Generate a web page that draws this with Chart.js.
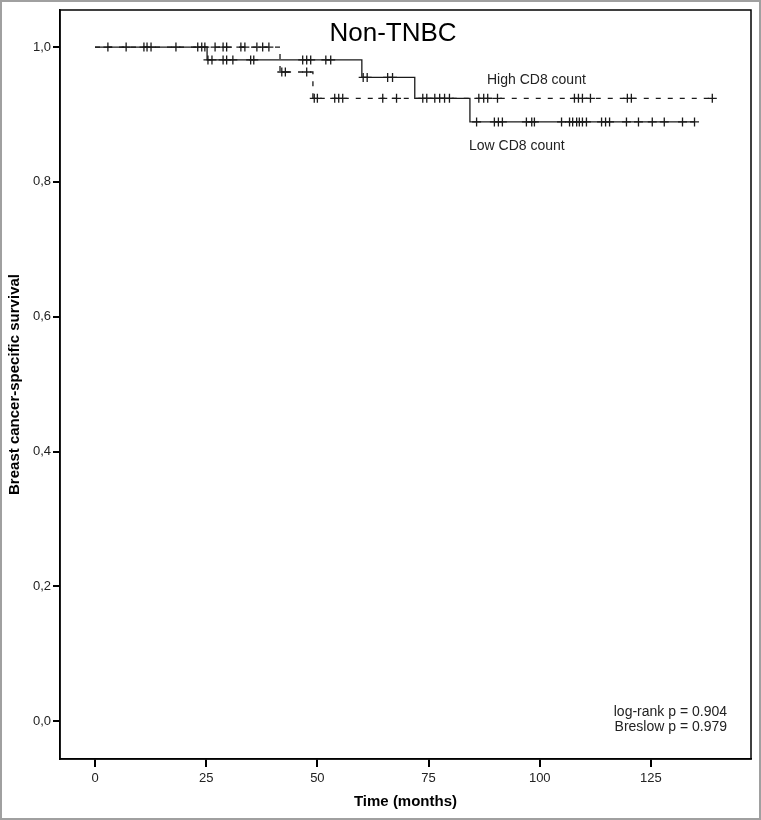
<!DOCTYPE html>
<html>
<head>
<meta charset="utf-8">
<script src="https://cdn.jsdelivr.net/npm/chart.js@4.4.0/dist/chart.umd.min.js"></script>
<style>
  html, body { margin: 0; padding: 0; background: #fff; }
  #wrap { width: 761px; height: 820px; }
</style>
</head>
<body>
<div id="wrap"><canvas id="myChart" width="761" height="820"></canvas></div>
<script>
// Kaplan-Meier step points (time in months, survival)
var lowTimes = [0, 25.2, 60.0, 71.9, 84.3, 134.8];
var lowSurv = [1.0, 0.981, 0.955, 0.924, 0.889, 0.889];
var highTimes = [0, 41.6, 49.0, 138.8];
var highSurv = [1.0, 0.963, 0.924, 0.924];

// censored cases (time in months)
var lowCensor = [2.9, 11.7, 18.2, 24.0, 25.4, 26.3, 28.8, 29.6, 31.0, 35.0, 35.7,
  46.7, 47.6, 48.5, 51.9, 53.0, 60.3, 61.2, 65.8, 66.9,
  73.7, 74.6, 76.4, 77.5, 78.6, 79.7,
  85.8, 89.8, 90.7, 91.6, 97.0, 98.2, 98.8, 104.9,
  106.7, 107.4, 108.3, 108.9, 109.6, 110.5, 113.9, 114.8, 115.7,
  119.5, 122.2, 125.3, 128.0, 132.1, 134.8];
var highCensor = [7.0, 11.0, 12.6, 23.1, 24.7, 27.0, 28.8, 29.6, 32.8, 33.7, 36.4, 37.7, 39.1,
  42.0, 42.8, 47.6, 49.3, 50.0, 53.9, 54.8, 55.7, 64.7, 67.8,
  86.3, 87.4, 88.3, 90.5, 107.8, 108.7, 109.6, 111.4, 119.7, 120.6, 138.8];

var xTicks = [0, 25, 50, 75, 100, 125];
var yTicks = [0, 0.2, 0.4, 0.6, 0.8, 1.0];

function survAt(times, surv, t) {
  var s = surv[0];
  for (var i = 0; i < times.length; i++) {
    if (times[i] <= t) s = surv[i];
  }
  return s;
}
function steps(times, surv) {
  return times.map(function (t, i) { return { x: t, y: surv[i] }; });
}
function marks(c, times, surv) {
  return c.map(function (t) { return { x: t, y: survAt(times, surv, t) }; });
}

var ink = "#1a1a1a";
var font = "'Liberation Sans', Arial, sans-serif";

var framePlugin = {
  id: "frame",
  afterDraw: function (chart) {
    var ctx = chart.ctx, a = chart.chartArea;
    ctx.save();
    ctx.strokeStyle = "#000";
    ctx.lineWidth = 1.5;
    ctx.strokeRect(a.left, a.top, a.right - a.left, a.bottom - a.top);
    ctx.strokeStyle = "#a0a0a0";
    ctx.lineWidth = 2;
    ctx.strokeRect(1, 1, chart.width - 2, chart.height - 2);

    ctx.fillStyle = "#000";
    ctx.textAlign = "center";
    ctx.font = "26px " + font;
    ctx.fillText("Non-TNBC", 393, 41);

    ctx.textAlign = "left";
    ctx.font = "14px " + font;
    ctx.fillStyle = "#222";
    ctx.fillText("High CD8 count", 487, 84);
    ctx.fillText("Low CD8 count", 469, 150);

    ctx.textAlign = "right";
    ctx.font = "14px " + font;
    ctx.fillText("log-rank p = 0.904", 727, 716);
    ctx.fillText("Breslow p = 0.979", 727, 731);
    ctx.restore();
  }
};

new Chart("myChart", {
  data: {
    datasets: [
      {
        type: "line",
        label: "Low CD8 count",
        data: steps(lowTimes, lowSurv),
        stepped: "before",
        borderColor: ink,
        borderWidth: 1.3,
        pointRadius: 0,
        fill: false
      },
      {
        type: "line",
        label: "High CD8 count",
        data: steps(highTimes, highSurv),
        stepped: "before",
        borderColor: ink,
        borderWidth: 1.3,
        borderDash: [5, 7],
        pointRadius: 0,
        fill: false
      },
      {
        type: "scatter",
        label: "Low censored",
        data: marks(lowCensor, lowTimes, lowSurv),
        pointStyle: "cross",
        pointRadius: 4.5,
        pointBorderWidth: 1.3,
        borderColor: ink,
        backgroundColor: ink
      },
      {
        type: "scatter",
        label: "High censored",
        data: marks(highCensor, highTimes, highSurv),
        pointStyle: "cross",
        pointRadius: 4.5,
        pointBorderWidth: 1.3,
        borderColor: ink,
        backgroundColor: ink
      }
    ]
  },
  options: {
    responsive: false,
    devicePixelRatio: 1,
    animation: false,
    layout: { padding: { top: 10, right: 10, left: 0, bottom: 0 } },
    plugins: {
      legend: { display: false },
      tooltip: { enabled: false }
    },
    scales: {
      x: {
        type: "linear",
        min: -7.87,
        max: 147.5,
        afterBuildTicks: function (s) { s.ticks = xTicks.map(function (v) { return { value: v }; }); },
        afterFit: function (s) { s.height = 61; },
        grid: { drawOnChartArea: false, drawTicks: true, tickLength: 8, color: "#000", lineWidth: 2 },
        border: { display: true, color: "#000", width: 1.5 },
        ticks: { color: "#222", font: { family: font, size: 13 }, padding: 4 },
        title: {
          display: true,
          text: "Time (months)",
          color: "#000",
          font: { family: font, size: 15, weight: "bold" },
          padding: { top: 0, bottom: 9 }
        }
      },
      y: {
        type: "linear",
        min: -0.056,
        max: 1.055,
        afterBuildTicks: function (s) { s.ticks = yTicks.map(function (v) { return { value: v }; }); },
        afterFit: function (s) { s.width = 60; },
        grid: { drawOnChartArea: false, drawTicks: true, tickLength: 7, color: "#000", lineWidth: 2 },
        border: { display: true, color: "#000", width: 1.5 },
        ticks: {
          color: "#222",
          font: { family: font, size: 13 },
          padding: 2,
          callback: function (v) { return v.toFixed(1).replace(".", ","); }
        },
        title: {
          display: true,
          text: "Breast cancer-specific survival",
          color: "#000",
          font: { family: font, size: 15, weight: "bold" },
          padding: { top: 6, bottom: 0 }
        }
      }
    }
  },
  plugins: [framePlugin]
});
</script>
</body>
</html>
